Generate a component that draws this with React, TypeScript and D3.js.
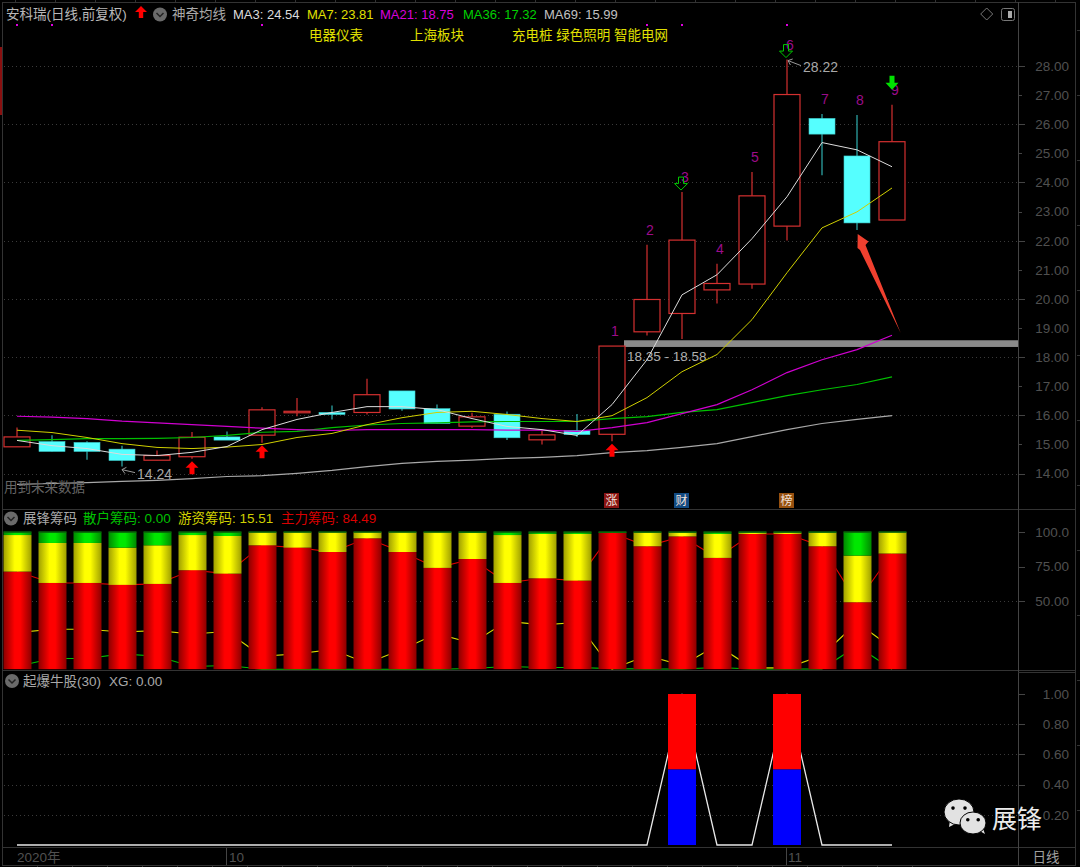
import React, { useEffect, useRef } from 'react';
import * as d3 from 'd3';

const WIDTH = 1080;
const HEIGHT = 867;
const FONT = "'Liberation Sans','Noto Sans CJK SC',sans-serif";

// candles, oldest first
const opens = [14.92, 15.10, 15.07, 14.84, 14.46, 14.58, 15.26, 15.32, 16.09, 16.10, 16.10, 16.84, 16.23, 15.63, 16.04, 15.16, 15.48, 15.35, 18.87, 19.50, 20.31, 20.51, 22.50, 26.20, 24.91, 22.71];
const closes = [15.26, 14.76, 14.76, 14.45, 14.62, 15.25, 15.15, 16.19, 16.14, 16.03, 16.71, 16.22, 15.72, 15.95, 15.23, 15.33, 15.34, 18.38, 19.98, 22.02, 20.53, 23.54, 27.02, 25.66, 22.61, 25.40];
const highs = [15.58, 15.32, 15.11, 14.96, 14.79, 15.43, 15.45, 16.28, 16.60, 16.34, 17.26, 16.84, 16.37, 16.09, 16.13, 15.48, 16.05, 18.38, 21.86, 23.67, 21.21, 24.36, 28.22, 26.35, 26.32, 26.67];
const lows = [14.92, 14.76, 14.48, 14.24, 14.46, 14.51, 15.15, 15.06, 15.97, 15.86, 16.03, 16.16, 15.72, 15.57, 15.15, 15.00, 15.26, 15.11, 18.74, 18.62, 19.84, 20.35, 22.01, 24.25, 22.37, 22.71];

const ma3 = [15.14, 14.96, 14.86, 14.66, 14.62, 14.73, 14.93, 15.51, 15.86, 16.10, 16.30, 16.30, 16.20, 15.89, 15.62, 15.51, 15.31, 16.37, 17.91, 20.14, 20.83, 22.07, 23.51, 25.37, 25.12, 24.54];
const ma7 = [15.49, 15.41, 15.24, 15.03, 14.90, 14.86, 14.91, 15.00, 15.24, 15.38, 15.68, 15.92, 16.10, 16.14, 16.03, 15.89, 15.79, 15.99, 16.61, 17.50, 18.09, 19.29, 20.90, 22.44, 22.99, 23.81];
const ma21 = [15.97, 15.94, 15.89, 15.80, 15.74, 15.68, 15.62, 15.56, 15.51, 15.48, 15.51, 15.51, 15.51, 15.51, 15.49, 15.49, 15.45, 15.58, 15.75, 16.06, 16.37, 16.88, 17.47, 17.91, 18.26, 18.75];
const ma36 = [15.14, 15.17, 15.20, 15.20, 15.21, 15.24, 15.31, 15.42, 15.45, 15.58, 15.67, 15.72, 15.74, 15.78, 15.79, 15.79, 15.79, 15.89, 15.96, 16.10, 16.20, 16.44, 16.68, 16.88, 17.06, 17.32];
const ma69 = [13.63, 13.66, 13.69, 13.73, 13.77, 13.83, 13.90, 13.93, 14.01, 14.11, 14.24, 14.35, 14.42, 14.46, 14.52, 14.56, 14.62, 14.72, 14.79, 14.90, 15.03, 15.27, 15.51, 15.72, 15.86, 15.99];

const priceTicks = [28, 27, 26, 25, 24, 23, 22, 21, 20, 19, 18, 17, 16, 15, 14];
const priceGrid = [28, 26, 24, 22, 20, 18, 16, 14];
const waveNumbers = ['1', '2', '3', '4', '5', '6', '7', '8', '9'];
const waveStart = 17;
const upArrows = [5, 7, 17];
const hollowDownArrows = [19, 22];
const solidDownArrows = [25];
const signalDots = [0, 1, 7, 18, 19, 22];
const zoneLow = 18.35;
const zoneHigh = 18.58;

// chip panel, percent
const mainChips = [71.3, 63, 63, 61.6, 62.3, 72.3, 69.8, 90.5, 88.8, 85.6, 95.6, 85.6, 74, 80.5, 63, 66.4, 64.7, 99.5, 89.8, 97, 81.3, 98.8, 98.8, 89.8, 48.9, 84.49];
const hotChips = [26.7, 29.2, 29.2, 27.2, 28.2, 25.7, 27.5, 9.5, 11.2, 14.4, 4.4, 14.4, 26, 19, 35, 32.4, 34.1, 0.1, 10, 2.8, 17.5, 1, 1, 10, 34.1, 15.51];
const retailChips = [2, 7.8, 7.8, 11.2, 9.5, 2, 2.7, 0, 0, 0, 0, 0, 0, 0.5, 2, 1.2, 1.2, 0.4, 0.2, 0.2, 1.2, 0.2, 0.2, 0.2, 17, 0];
const chipTicks = [100, 75, 50];
const chipLabels = ['100.0', '75.00', '50.00'];

// signal panel
const signal = [0, 0, 0, 0, 0, 0, 0, 0, 0, 0, 0, 0, 0, 0, 0, 0, 0, 0, 0, 1, 0, 0, 1, 0, 0, 0];
const signalSplit = 0.5;
const signalTicks = [1, 0.8, 0.6, 0.4, 0.2];

const App: React.FC = () => {
    const ref = useRef<SVGSVGElement | null>(null);

    useEffect(() => {
        if (!ref.current) return;
        const svg = d3.select(ref.current);
        svg.selectAll('*').remove();

        const x = d3.scaleLinear().domain([0, 25]).range([17, 892]);
        const yPrice = d3.scaleLinear().domain([14, 28]).range([473.6, 66]);
        const yChip = d3.scaleLinear().domain([0, 100]).range([669.2, 532.3]);
        const ySignal = d3.scaleLinear().domain([0, 1]).range([845, 694]);
        const idx = d3.range(opens.length);

        const text = (tx: number, ty: number, s: string, fill: string, size = 13.5, anchor = 'start') =>
            svg.append('text')
                .attr('x', tx)
                .attr('y', ty)
                .attr('dy', '0.36em')
                .attr('fill', fill)
                .attr('font-size', size)
                .attr('font-family', FONT)
                .attr('text-anchor', anchor)
                .text(s);

        svg.append('rect').attr('width', WIDTH).attr('height', HEIGHT).attr('fill', '#000');

        // gradients for the chip bars
        const defs = svg.append('defs');
        const gradient = (id: string, edge: string, mid: string) => {
            const g = defs.append('linearGradient').attr('id', id).attr('x1', 0).attr('x2', 1).attr('y1', 0).attr('y2', 0);
            g.append('stop').attr('offset', '0').attr('stop-color', edge);
            g.append('stop').attr('offset', '0.4').attr('stop-color', mid);
            g.append('stop').attr('offset', '0.6').attr('stop-color', mid);
            g.append('stop').attr('offset', '1').attr('stop-color', edge);
        };
        gradient('gRed', '#8c0000', '#ff0000');
        gradient('gYellow', '#a0a000', '#ffff00');
        gradient('gGreen', '#008800', '#00e800');

        // frame
        const frame = '#333';
        const rule = (x1: number, y1: number, x2: number, y2: number, stroke = frame) =>
            svg.append('line').attr('x1', x1).attr('y1', y1).attr('x2', x2).attr('y2', y2)
                .attr('stroke', stroke).attr('stroke-width', 1).attr('shape-rendering', 'crispEdges');
        [2.5, 509.5, 670.5, 847.5, 865.5].forEach(v => rule(2, v, 1076, v));
        rule(2.5, 2, 2.5, 866);
        rule(1018.5, 2, 1018.5, 866, '#444');
        rule(1075.5, 2, 1075.5, 866);
        rule(1018, 672.5, 1076, 672.5);
        d3.range(15, 1080, 40).forEach(v => rule(v, 0, v, 2));
        idx.forEach(i => rule(x(i) + 20, 865, x(i) + 20, 867));
        d3.range(30, 860, 65).forEach(v => rule(1077, v, 1080, v));
        svg.append('rect').attr('x', 0).attr('y', 47).attr('width', 2).attr('height', 68).attr('fill', '#8a1010');

        // dotted grid
        const dotted = (v: number) =>
            svg.append('line').attr('x1', 4).attr('x2', 1018).attr('y1', v).attr('y2', v)
                .attr('stroke', '#3a3a3a').attr('stroke-dasharray', '1 3').attr('shape-rendering', 'crispEdges');
        priceGrid.forEach(v => dotted(Math.round(yPrice(v)) + 0.5));
        dotted(Math.round(yChip(50)) + 0.5);
        signalTicks.slice(1).forEach(v => dotted(Math.round(ySignal(v)) + 0.5));

        // right axes
        const axisColor = '#505050';
        priceTicks.forEach(v => {
            const py = Math.round(yPrice(v)) + 0.5;
            rule(1019, py, priceGrid.includes(v) ? 1025 : 1022, py, '#444');
            text(1069, yPrice(v), d3.format('.2f')(v), axisColor, 13.5, 'end');
        });
        chipTicks.forEach((v, i) => {
            const py = Math.round(yChip(v)) + 0.5;
            rule(1019, py, 1025, py, '#444');
            text(1069, yChip(v), chipLabels[i], axisColor, 13.5, 'end');
        });
        signalTicks.forEach(v => {
            const py = Math.round(ySignal(v)) + 0.5;
            rule(1019, py, 1025, py, '#444');
            text(1069, ySignal(v), d3.format('.2f')(v), axisColor, 13.5, 'end');
        });

        // support zone behind the candles
        svg.append('rect')
            .attr('x', x(17) + 12)
            .attr('y', yPrice(zoneHigh))
            .attr('width', 1018 - x(17) - 12)
            .attr('height', yPrice(zoneLow) - yPrice(zoneHigh))
            .attr('fill', '#8a8a8a');
        text(627, yPrice(zoneLow) + 9, `${zoneLow} - ${zoneHigh}`, '#b0b0b0', 13.5);

        // candles
        const bodyW = 26;
        const up = (i: number) => closes[i] >= opens[i];
        const candles = svg.append('g');
        idx.forEach(i => {
            const stroke = up(i) ? '#d43030' : '#2fb0b0';
            const top = yPrice(Math.max(opens[i], closes[i]));
            const bottom = yPrice(Math.min(opens[i], closes[i]));
            candles.append('line').attr('x1', x(i)).attr('x2', x(i)).attr('y1', yPrice(highs[i])).attr('y2', yPrice(lows[i]))
                .attr('stroke', stroke).attr('stroke-width', 1.2);
            candles.append('rect')
                .attr('x', x(i) - bodyW / 2)
                .attr('y', top)
                .attr('width', bodyW)
                .attr('height', Math.max(bottom - top, 1))
                .attr('fill', up(i) ? '#000' : '#55ffff')
                .attr('stroke', up(i) ? '#d43030' : '#3cc8c8')
                .attr('stroke-width', up(i) ? 1.2 : 0.6);
        });

        // moving averages
        const maLine = d3.line<number>().x((_, i) => x(i)).y(d => yPrice(d));
        [
            { values: ma69, color: '#a8a8a8', w: 1.2 },
            { values: ma36, color: '#00c000', w: 1.2 },
            { values: ma21, color: '#d000d0', w: 1.2 },
            { values: ma7, color: '#d0d000', w: 1 },
            { values: ma3, color: '#dcdcdc', w: 1 },
        ].forEach(s => {
            svg.append('path').attr('d', maLine(s.values)).attr('fill', 'none').attr('stroke', s.color).attr('stroke-width', s.w);
        });

        // wave numbers over the last candles
        waveNumbers.forEach((n, k) => {
            const i = waveStart + k;
            text(x(i) + 3, yPrice(highs[i]) - 15, n, '#9c0c8a', 14, 'middle');
        });

        // buy / sell arrows
        const arrowUp = (cx: number, ty: number, h = 13, hw = 6.5, sw = 2.5) =>
            `M${cx},${ty}L${cx + hw},${ty + h * 0.5}L${cx + sw},${ty + h * 0.5}L${cx + sw},${ty + h}L${cx - sw},${ty + h}L${cx - sw},${ty + h * 0.5}L${cx - hw},${ty + h * 0.5}Z`;
        const arrowDown = (cx: number, tip: number, h = 13, hw = 6.5, sw = 2.5) =>
            `M${cx},${tip}L${cx + hw},${tip - h * 0.5}L${cx + sw},${tip - h * 0.5}L${cx + sw},${tip - h}L${cx - sw},${tip - h}L${cx - sw},${tip - h * 0.5}L${cx - hw},${tip - h * 0.5}Z`;
        upArrows.forEach(i => {
            svg.append('path').attr('d', arrowUp(x(i), yPrice(lows[i]) + 2.5)).attr('fill', '#ff0000');
        });
        hollowDownArrows.forEach(i => {
            svg.append('path').attr('d', arrowDown(x(i) - 1, yPrice(highs[i]) - 2)).attr('fill', 'none').attr('stroke', '#00c800').attr('stroke-width', 1);
        });
        solidDownArrows.forEach(i => {
            svg.append('path').attr('d', arrowDown(x(i), yPrice(highs[i]) - 15, 14)).attr('fill', '#00e000');
        });
        signalDots.forEach(i => {
            svg.append('rect').attr('x', x(i) - 1).attr('y', 24).attr('width', 2).attr('height', 2).attr('fill', '#e000e0');
        });

        // high / low callouts
        const callout = (x1: number, y1: number, x2: number, y2: number) => {
            const a = Math.atan2(y2 - y1, x2 - x1);
            const wing = (d: number) => `L${x1 + 5 * Math.cos(a + d)},${y1 + 5 * Math.sin(a + d)}`;
            svg.append('path')
                .attr('d', `M${x2},${y2}L${x1},${y1}${wing(0.7)}M${x1},${y1}${wing(-0.7)}`)
                .attr('fill', 'none').attr('stroke', '#999').attr('stroke-width', 1);
        };
        callout(x(22) + 1, yPrice(28.22) + 1, x(22) + 14, yPrice(28.22) + 6);
        text(803, yPrice(28.22) + 7, '28.22', '#a8a8a8', 14);
        callout(x(3), yPrice(14.24) + 3, x(3) + 13, yPrice(14.24) + 6);
        text(137, yPrice(14.24) + 7, '14.24', '#a8a8a8', 14);

        // red hand-drawn pointer
        svg.append('path')
            .attr('d', 'M857.7,234L868.5,241.5L865.5,245L900.7,333L860,250L857.5,248Z')
            .attr('fill', '#f0402f');

        // tag boxes under the candles
        [
            { i: 17, s: '涨', fill: '#8a1414' },
            { i: 19, s: '财', fill: '#124a82' },
            { i: 22, s: '榜', fill: '#96500f' },
        ].forEach(t => {
            svg.append('rect').attr('x', x(t.i) - 8).attr('y', 493).attr('width', 15).attr('height', 15).attr('fill', t.fill);
            text(x(t.i) - 0.5, 500.5, t.s, '#f0e0d8', 12, 'middle');
        });
        text(4, 487, '用到未来数据', '#666', 13.5);

        // chip panel: indicator lines first, the bars cover them
        const chipLine = d3.line<number>().x((_, i) => x(i)).y(d => yChip(d));
        [
            { values: retailChips, color: '#00c000' },
            { values: hotChips, color: '#d8d800' },
            { values: mainChips, color: '#e00000' },
        ].forEach(s => {
            svg.append('path').attr('d', chipLine(s.values)).attr('fill', 'none').attr('stroke', s.color).attr('stroke-width', 1.1);
        });
        const barW = 28;
        const stack = d3.stack<number>()
            .keys(['main', 'hot', 'retail'])
            .value((i, key) => (key === 'main' ? mainChips[i] : key === 'hot' ? hotChips[i] : retailChips[i]))(idx);
        const fills = ['url(#gRed)', 'url(#gYellow)', 'url(#gGreen)'];
        stack.forEach((layer, k) => {
            svg.append('g').selectAll('rect').data(layer).enter().append('rect')
                .attr('x', (_, i) => x(i) - barW / 2 + 0.5)
                .attr('y', d => yChip(d[1]))
                .attr('width', barW)
                .attr('height', d => yChip(d[0]) - yChip(d[1]))
                .attr('fill', fills[k]);
        });
        svg.append('g').selectAll('rect').data(idx).enter().append('rect')
            .attr('x', i => x(i) - barW / 2 + 0.5)
            .attr('y', yChip(100) - 1)
            .attr('width', barW)
            .attr('height', 1.5)
            .attr('fill', '#0a6a0a');

        // signal panel
        const signalLine = d3.line<number>().x((_, i) => x(i)).y(d => ySignal(d));
        svg.append('path').attr('d', signalLine(signal)).attr('fill', 'none').attr('stroke', '#e8e8e8').attr('stroke-width', 1.3);
        idx.filter(i => signal[i] > 0).forEach(i => {
            svg.append('rect').attr('x', x(i) - 14).attr('y', ySignal(signal[i])).attr('width', 28)
                .attr('height', ySignal(signalSplit) - ySignal(signal[i])).attr('fill', '#ff0000');
            svg.append('rect').attr('x', x(i) - 14).attr('y', ySignal(signalSplit)).attr('width', 28)
                .attr('height', ySignal(0) - ySignal(signalSplit)).attr('fill', '#0000ff');
        });

        // header rows
        const chevron = (cx: number, cy: number) => {
            svg.append('circle').attr('cx', cx).attr('cy', cy).attr('r', 7).attr('fill', '#6a6a6a');
            svg.append('path').attr('d', `M${cx - 3.5},${cy - 1.5}L${cx},${cy + 2}L${cx + 3.5},${cy - 1.5}`)
                .attr('fill', 'none').attr('stroke', '#222').attr('stroke-width', 1.5);
        };
        text(6, 14.5, '安科瑞(日线,前复权)', '#b8b8b8');
        svg.append('path').attr('d', arrowUp(141, 6, 12, 6, 2.2)).attr('fill', '#ff0000');
        chevron(160, 14.5);
        text(172, 14.5, '神奇均线', '#a8a8a8');
        text(233, 14.5, 'MA3: 24.54', '#dcdcdc', 13);
        text(307, 14.5, 'MA7: 23.81', '#e0e000', 13);
        text(380, 14.5, 'MA21: 18.75', '#d800d8', 13);
        text(463, 14.5, 'MA36: 17.32', '#00d000', 13);
        text(544, 14.5, 'MA69: 15.99', '#c0c0c0', 13);
        text(309, 35, '电器仪表', '#e0e000');
        text(410, 35, '上海板块', '#e0e000');
        text(512, 35, '充电桩 绿色照明 智能电网', '#e0e000');

        chevron(11, 518.5);
        text(23, 518.5, '展锋筹码', '#a8a8a8');
        text(83, 518.5, '散户筹码: 0.00', '#00c000');
        text(178, 518.5, '游资筹码: 15.51', '#d0d000');
        text(281, 518.5, '主力筹码: 84.49', '#d80000');

        chevron(12, 681);
        text(23, 681, '起爆牛股(30)', '#a8a8a8');
        text(109, 681, 'XG: 0.00', '#a8a8a8');

        // top right icons
        svg.append('path').attr('d', 'M986.7,8L992.7,14L986.7,20L980.7,14Z').attr('fill', 'none').attr('stroke', '#777');
        svg.append('rect').attr('x', 1001.5).attr('y', 8.5).attr('width', 13).attr('height', 12).attr('rx', 2).attr('fill', 'none').attr('stroke', '#777');
        svg.append('rect').attr('x', 1008).attr('y', 11).attr('width', 4).attr('height', 7).attr('fill', '#aaa');

        // date axis
        text(17, 857, '2020年', '#505050');
        rule(226.5, 848, 226.5, 865, '#444');
        text(229, 857, '10', '#505050');
        rule(786.5, 848, 786.5, 865, '#444');
        text(788, 857, '11', '#505050');
        text(1046, 857, '日线', '#a0a0a0', 13.5, 'middle');

        // watermark
        const bubble = (cx: number, cy: number, rx: number, ry: number) => {
            svg.append('ellipse').attr('cx', cx).attr('cy', cy).attr('rx', rx).attr('ry', ry).attr('fill', '#e2e2e2').attr('stroke', '#000').attr('stroke-width', 1);
            svg.append('circle').attr('cx', cx - rx * 0.4).attr('cy', cy - ry * 0.3).attr('r', 1.8).attr('fill', '#000');
            svg.append('circle').attr('cx', cx + rx * 0.4).attr('cy', cy - ry * 0.3).attr('r', 1.8).attr('fill', '#000');
        };
        svg.append('path').attr('d', 'M950,820L949,827L957,823Z').attr('fill', '#e2e2e2');
        bubble(959, 812, 15, 13);
        svg.append('path').attr('d', 'M978,830L985,834L982,826Z').attr('fill', '#e2e2e2');
        bubble(973, 823, 13, 11);
        text(992, 819, '展锋', '#ececec', 25);
    }, []);

    return (
        <svg
            ref={ref}
            width={WIDTH}
            height={HEIGHT}
            style={{ position: 'absolute', left: 0, top: 0, display: 'block' }}
        />
    );
};

export default App;
